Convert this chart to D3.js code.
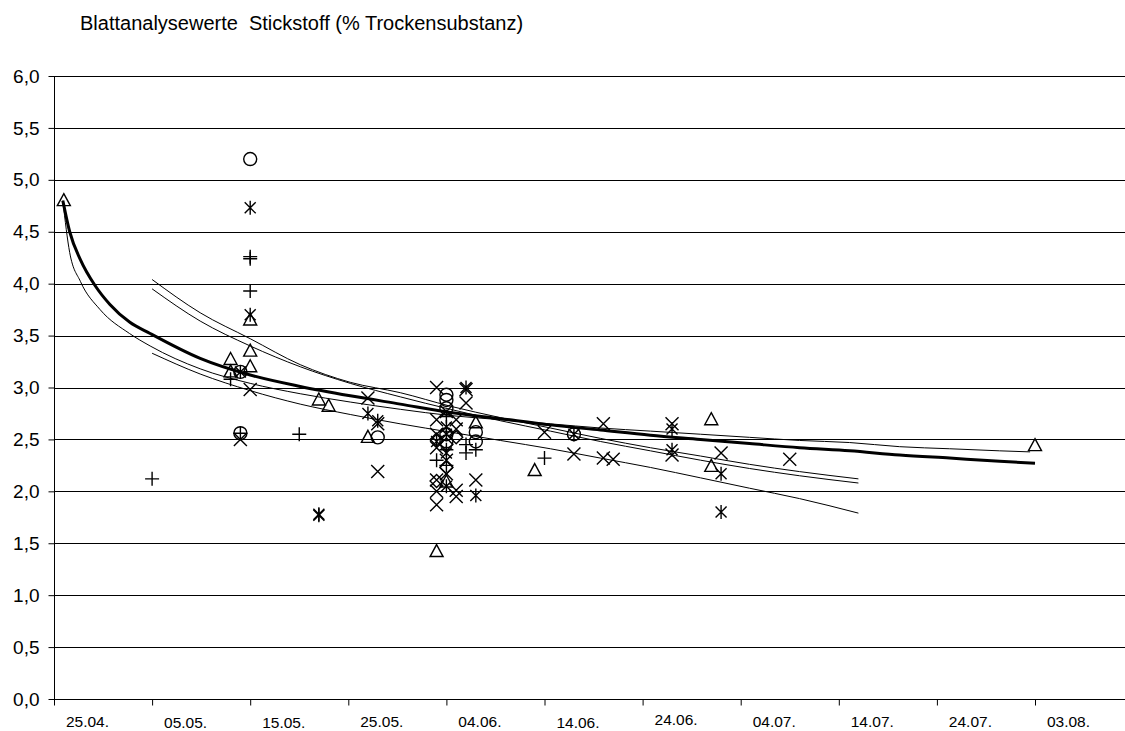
<!DOCTYPE html>
<html><head><meta charset="utf-8">
<script src="https://cdn.jsdelivr.net/npm/d3@7"></script>
<style>
html,body{margin:0;padding:0;background:#fff;}
svg{display:block;font-family:"Liberation Sans",Arial,sans-serif;}
</style></head>
<body>
<svg id="chart" width="1125" height="731"></svg>
<script>
// ---------- data ----------
const titleText = "Blattanalysewerte  Stickstoff (% Trockensubstanz)";
const yTicks = [0,0.5,1,1.5,2,2.5,3,3.5,4,4.5,5,5.5,6];
const xTickDates = ["2000-04-25","2000-05-05","2000-05-15","2000-05-25","2000-06-04","2000-06-14","2000-06-24","2000-07-04","2000-07-14","2000-07-24","2000-08-03"];

const triDates = ["2000-04-26","2000-05-13","2000-05-13","2000-05-15","2000-05-15","2000-05-15","2000-05-22","2000-05-23","2000-05-27","2000-06-03","2000-06-04","2000-06-07","2000-06-13","2000-07-01","2000-07-01","2000-08-03"];
const triValues = [4.80,3.27,3.15,3.65,3.35,3.20,2.88,2.82,2.52,1.42,2.09,2.66,2.20,2.69,2.24,2.44];

const circDates = ["2000-05-15","2000-05-14","2000-05-14","2000-05-28","2000-06-04","2000-06-04","2000-06-04","2000-06-04","2000-06-04","2000-06-07","2000-06-07","2000-06-17"];
const circValues = [5.20,3.15,2.56,2.52,2.93,2.88,2.80,2.55,2.48,2.57,2.48,2.55];

const plusDates = ["2000-05-05","2000-05-13","2000-05-14","2000-05-15","2000-05-15","2000-05-15","2000-05-20","2000-06-03","2000-06-04","2000-06-04","2000-06-04","2000-06-06","2000-06-06","2000-06-07","2000-06-14"];
const plusValues = [2.12,3.08,2.56,4.26,4.24,3.93,2.55,2.30,2.72,2.40,2.25,2.45,2.37,2.40,2.32];

const starDates = ["2000-05-14","2000-05-15","2000-05-15","2000-05-22","2000-05-22","2000-05-27","2000-05-28","2000-06-03","2000-06-04","2000-06-04","2000-06-04","2000-06-04","2000-06-06","2000-06-07","2000-06-17","2000-06-27","2000-06-27","2000-07-02","2000-07-02"];
const starValues = [3.15,4.73,3.70,1.77,1.78,2.75,2.68,2.48,2.62,2.55,2.37,2.05,3.00,1.96,2.55,2.60,2.40,2.17,1.80];

const crossDates = ["2000-05-14","2000-05-15","2000-05-27","2000-05-28","2000-05-28","2000-06-03","2000-06-03","2000-06-03","2000-06-03","2000-06-03","2000-06-03","2000-06-03","2000-06-04","2000-06-04","2000-06-04","2000-06-05","2000-06-05","2000-06-05","2000-06-05","2000-06-06","2000-06-06","2000-06-07","2000-06-14","2000-06-17","2000-06-20","2000-06-20","2000-06-21","2000-06-27","2000-06-27","2000-07-02","2000-07-09"];
const crossValues = [2.50,2.98,2.90,2.65,2.19,3.00,2.69,2.55,2.42,2.11,2.00,1.87,2.77,2.30,2.17,2.69,2.60,2.01,1.95,2.98,2.85,2.11,2.57,2.36,2.65,2.32,2.31,2.65,2.35,2.37,2.31];

const diamDates = ["2000-06-03","2000-06-03","2000-06-04","2000-06-04","2000-06-05"];
const diamValues = [2.50,2.10,2.45,2.23,2.52];

// trend lines: days after 25.04. and values
const thickDays = [0.9,1.6,2.7,4.2,5.7,7.7,9.8,14.9,20,25.1,30.2,35.3,40.4,45.5,50.6,55.7,60.8,65.9,70.9,76,81.1,86.2,91.3,96.4,100];
const thickValues = [4.80,4.50,4.23,3.98,3.80,3.63,3.52,3.28,3.12,3.01,2.92,2.84,2.76,2.70,2.64,2.59,2.54,2.50,2.46,2.42,2.39,2.35,2.32,2.29,2.27];

const thinADays = [0.9,1.6,2.7,4.7,7.7,9.8,14.9,20,25.1,30.2,35.3,40.4,45.5,50.6,55.7,60.8,65.9,70.9,76,81.1,86.2,91.3,96.4,99.5];
const thinAValues = [4.80,4.30,4.02,3.75,3.52,3.40,3.18,3.04,2.94,2.86,2.79,2.73,2.69,2.65,2.61,2.58,2.55,2.52,2.49,2.47,2.43,2.41,2.39,2.38];

const thinBCDDays = [10,14.9,20,25.1,30.2,35.3,40.4,45.5,50.6,55.7,60.8,65.9,70.9,76,82];
const thinBValues = [4.04,3.72,3.47,3.22,3.05,2.95,2.82,2.71,2.61,2.51,2.42,2.34,2.26,2.19,2.12];
const thinCValues = [3.95,3.64,3.40,3.20,3.04,2.91,2.79,2.68,2.58,2.48,2.39,2.30,2.22,2.15,2.08];
const thinDValues = [3.33,3.13,2.97,2.84,2.74,2.65,2.57,2.49,2.41,2.32,2.23,2.13,2.03,1.93,1.79];

// ---------- layout ----------
const W = 1125, H = 731;
const padL = 54, plotTop = 76, plotBottom = 699;
const parse = d3.utcParse("%Y-%m-%d");
const start = parse("2000-04-25");
const dayMs = 86400000;
const x = d3.scaleUtc().domain([start, new Date(+start + 110*dayMs)]).range([padL, padL + 110*9.81]);
const y = d3.scaleLinear().domain([0,6]).range([plotBottom, plotTop]);
const fromDay = d => new Date(+start + d*dayMs);

const svg = d3.select("#chart");
svg.append("rect").attr("width",W).attr("height",H).attr("fill","#fff");

svg.append("text").attr("x",80).attr("y",30).attr("font-size",20).attr("fill","#000")
  .style("white-space","pre").attr("xml:space","preserve").text(titleText);

// gridlines
svg.append("g").selectAll("line").data(yTicks.filter(v=>v>0)).join("line")
  .attr("x1",padL).attr("x2",W).attr("y1",d=>Math.round(y(d))+0.5).attr("y2",d=>Math.round(y(d))+0.5)
  .attr("stroke","#000").attr("stroke-width",1);

const loc = d3.formatLocale({decimal:",",thousands:".",grouping:[3],currency:["",""]});
const fmt = loc.format(".1f");

const gy = svg.append("g").attr("transform",`translate(${padL+0.5},0)`)
  .call(d3.axisLeft(y).tickValues(yTicks).tickSize(6).tickPadding(9).tickFormat(fmt));
gy.select(".domain").attr("stroke","#000").attr("d",`M0,${plotTop}V${plotBottom+0.5}`);
gy.selectAll(".tick line").attr("stroke","#000");
gy.selectAll(".tick text").attr("font-size",19).attr("font-family","Liberation Sans, Arial, sans-serif").attr("fill","#000");

const labelNudge = [0,1,1,0,0,1,-2,0,0,0,0];
const gx = svg.append("g").attr("transform",`translate(0,${plotBottom+0.5})`)
  .call(d3.axisBottom(x).tickValues(xTickDates.map(parse)).tickSize(6).tickPadding(10).tickFormat(d3.utcFormat("%d.%m.")));
gx.select(".domain").attr("stroke","#000").attr("d",`M${padL},0H${W}`);
gx.selectAll(".tick line").attr("stroke","#000");
gx.selectAll(".tick text").attr("font-size",15.5).attr("font-family","Liberation Sans, Arial, sans-serif").attr("fill","#000")
  .attr("transform",(d,i)=>`translate(33,${labelNudge[i]})`);

// trend lines
const line = d3.line().x(d=>x(fromDay(d[0]))).y(d=>y(d[1])).curve(d3.curveMonotoneX);
const lg = svg.append("g").attr("fill","none").attr("stroke","#000");
lg.append("path").attr("d",line(thinADays.map((d,i)=>[d,thinAValues[i]]))).attr("stroke-width",1);
lg.append("path").attr("d",line(thinBCDDays.map((d,i)=>[d,thinBValues[i]]))).attr("stroke-width",1);
lg.append("path").attr("d",line(thinBCDDays.map((d,i)=>[d,thinCValues[i]]))).attr("stroke-width",1);
lg.append("path").attr("d",line(thinBCDDays.map((d,i)=>[d,thinDValues[i]]))).attr("stroke-width",1);
lg.append("path").attr("d",line(thickDays.map((d,i)=>[d,thickValues[i]]))).attr("stroke-width",3);

// markers
const shapes = {
  tri: "M0,-7L6.5,5H-6.5Z",
  circ: "M6.5,0A6.5,6.5 0 1,1 -6.5,0A6.5,6.5 0 1,1 6.5,0Z",
  plus: "M-7,0H7M0,-7V7",
  star: "M-5.5,-5.5L5.5,5.5M-5.5,5.5L5.5,-5.5M0,-7V7",
  cross: "M-6.5,-6.5L6.5,6.5M-6.5,6.5L6.5,-6.5",
  diam: "M0,-6.5L6.5,0L0,6.5L-6.5,0Z"
};
function drawSeries(key, dates, values){
  svg.append("g").selectAll("path").data(dates.map((d,i)=>[parse(d),values[i]])).join("path")
    .attr("transform",d=>`translate(${x(d[0])},${y(d[1])})`)
    .attr("d",shapes[key]).attr("fill","none").attr("stroke","#000").attr("stroke-width",1.4);
}
drawSeries("cross",crossDates,crossValues);
drawSeries("diam",diamDates,diamValues);
drawSeries("star",starDates,starValues);
drawSeries("plus",plusDates,plusValues);
drawSeries("circ",circDates,circValues);
drawSeries("tri",triDates,triValues);
</script>
</body></html>
